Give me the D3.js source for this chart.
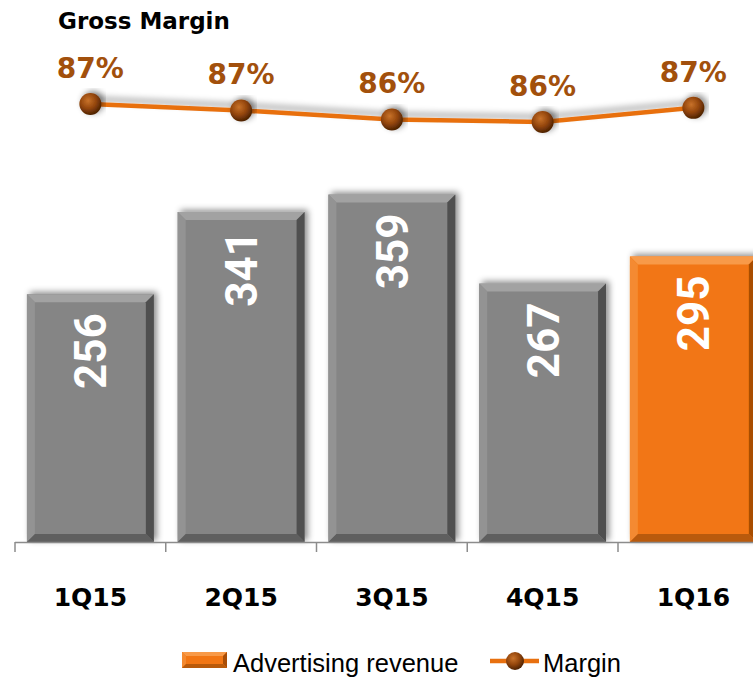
<!DOCTYPE html>
<html>
<head>
<meta charset="utf-8">
<script src="https://cdn.jsdelivr.net/npm/d3@7"></script>
<style>
  body { margin: 0; background: #fff; }
  svg { display: block; }
</style>
</head>
<body>
<div id="chart"></div>
<script>
var W = 753, H = 677;

// data
var quarters = ["1Q15", "2Q15", "3Q15", "4Q15", "1Q16"];
var revenue = [256, 341, 359, 267, 295];
var margin = [87.3, 86.8, 86.1, 85.9, 87.0];
var marginLabels = ["87%", "87%", "86%", "86%", "87%"];

var baseY = 542;

var x = d3.scaleBand()
    .domain(quarters)
    .range([15, 768.75])
    .paddingInner(0.158)
    .paddingOuter(0.079);

var y = d3.scaleLinear()
    .domain([0, 560])
    .range([baseY, 0]);

var yM = d3.scaleLinear()
    .domain([85.9, 87.3])
    .range([122, 104]);

var svg = d3.select("#chart").append("svg")
    .attr("width", W)
    .attr("height", H);

var defs = svg.append("defs");

var sh = defs.append("filter").attr("id", "barShadow")
    .attr("x", "-20%").attr("y", "-20%").attr("width", "140%").attr("height", "140%");
sh.append("feDropShadow").attr("dx", 3).attr("dy", -2)
    .attr("stdDeviation", 3).attr("flood-color", "#000").attr("flood-opacity", 0.45);

var lsh = defs.append("filter").attr("id", "lineShadow")
    .attr("x", "-10%").attr("y", "-100%").attr("width", "120%").attr("height", "300%");
lsh.append("feDropShadow").attr("dx", 0).attr("dy", -5)
    .attr("stdDeviation", 3).attr("flood-color", "#000").attr("flood-opacity", 0.35);

var ball = defs.append("radialGradient").attr("id", "ball")
    .attr("cx", "40%").attr("cy", "35%").attr("r", "65%");
ball.append("stop").attr("offset", "0%").attr("stop-color", "#c8722a");
ball.append("stop").attr("offset", "55%").attr("stop-color", "#94460c");
ball.append("stop").attr("offset", "100%").attr("stop-color", "#4e2203");

var grayTheme = {face: "#858585", top: "#a2a2a2", left: "#939393", right: "#4f4f4f", bottom: "#5e5e5e"};
var orangeTheme = {face: "#f27613", top: "#f89a48", left: "#f48a30", right: "#a94d06", bottom: "#b95a0a"};

// bevelled rectangle
function bevelRect(g, x0, y0, w, h, th, b) {
    g.append("rect").attr("x", x0).attr("y", y0).attr("width", w).attr("height", h)
        .attr("fill", th.face);
    var x1 = x0 + w, y1 = y0 + h;
    var pts = {
        top: [[x0, y0], [x1, y0], [x1 - b, y0 + b], [x0 + b, y0 + b]],
        left: [[x0, y0], [x0 + b, y0 + b], [x0 + b, y1 - b], [x0, y1]],
        right: [[x1, y0], [x1, y1], [x1 - b, y1 - b], [x1 - b, y0 + b]],
        bottom: [[x0, y1], [x0 + b, y1 - b], [x1 - b, y1 - b], [x1, y1]]
    };
    ["top", "left", "right", "bottom"].forEach(function(k) {
        g.append("polygon").attr("points", pts[k].map(function(p) { return p.join(","); }).join(" "))
            .attr("fill", th[k]);
    });
}

// title
svg.append("text")
    .attr("x", 58).attr("y", 29)
    .style("font-family", "DejaVu Sans").style("font-weight", "bold").style("font-size", "23px")
    .attr("fill", "#000")
    .text("Gross Margin");

// bars
var bars = svg.append("g");
quarters.forEach(function(q, i) {
    var g = bars.append("g").attr("filter", "url(#barShadow)");
    bevelRect(g, x(q), y(revenue[i]), x.bandwidth(), baseY - y(revenue[i]), i === 4 ? orangeTheme : grayTheme, 8);
});

// bar value labels
svg.append("g").selectAll("text")
    .data(quarters)
    .enter().append("text")
    .attr("transform", function(d, i) {
        return "translate(" + (x(d) + x.bandwidth() / 2 + 16) + "," + (y(revenue[i]) + 19) + ") rotate(-90)";
    })
    .attr("text-anchor", "end")
    .style("font-family", "Roboto").style("font-weight", "bold").style("font-size", "44px")
    .attr("fill", "#fff")
    .text(function(d, i) { return revenue[i]; });

// x axis
var axis = svg.append("g");
axis.append("line")
    .attr("x1", x.range()[0]).attr("x2", x.range()[1])
    .attr("y1", baseY + 0.5).attr("y2", baseY + 0.5)
    .attr("stroke", "#8c8c8c").attr("stroke-width", 1.5);
var bounds = quarters.map(function(q) { return x(q) - x.step() * x.paddingInner() / 2; });
axis.selectAll(".tick")
    .data(bounds)
    .enter().append("line")
    .attr("class", "tick")
    .attr("x1", function(d) { return d; }).attr("x2", function(d) { return d; })
    .attr("y1", baseY).attr("y2", baseY + 10)
    .attr("stroke", "#8c8c8c").attr("stroke-width", 1.5);
axis.selectAll(".cat")
    .data(quarters)
    .enter().append("text")
    .attr("class", "cat")
    .attr("x", function(d) { return x(d) + x.bandwidth() / 2; })
    .attr("y", 606)
    .attr("text-anchor", "middle")
    .style("font-family", "DejaVu Sans").style("font-weight", "bold").style("font-size", "25px")
    .attr("fill", "#000")
    .text(function(d) { return d; });

// margin line
var line = d3.line()
    .x(function(d, i) { return x(quarters[i]) + x.bandwidth() / 2; })
    .y(function(d) { return yM(d); });

svg.append("path")
    .datum(margin)
    .attr("d", line)
    .attr("fill", "none")
    .attr("stroke", "#e8700f")
    .attr("stroke-width", 4.5)
    .attr("filter", "url(#lineShadow)");

svg.append("g").selectAll("circle")
    .data(margin)
    .enter().append("circle")
    .attr("cx", function(d, i) { return x(quarters[i]) + x.bandwidth() / 2; })
    .attr("cy", function(d) { return yM(d); })
    .attr("r", 11)
    .attr("fill", "url(#ball)")
    .attr("filter", "url(#barShadow)");

svg.append("g").selectAll("text")
    .data(margin)
    .enter().append("text")
    .attr("x", function(d, i) { return x(quarters[i]) + x.bandwidth() / 2; })
    .attr("y", function(d) { return yM(d) - 26; })
    .attr("text-anchor", "middle")
    .style("font-family", "DejaVu Sans").style("font-weight", "bold").style("font-size", "28px")
    .attr("fill", "#a2500c")
    .text(function(d, i) { return marginLabels[i]; });

// legend
var legend = svg.append("g");
bevelRect(legend, 182, 652, 45, 16, orangeTheme, 4);
legend.append("text")
    .attr("x", 233).attr("y", 672)
    .style("font-family", "Liberation Sans").style("font-size", "25.5px")
    .attr("fill", "#000")
    .text("Advertising revenue");
legend.append("line")
    .attr("x1", 490).attr("x2", 539).attr("y1", 661).attr("y2", 661)
    .attr("stroke", "#e8700f").attr("stroke-width", 4.5);
legend.append("circle")
    .attr("cx", 515).attr("cy", 661).attr("r", 9)
    .attr("fill", "url(#ball)");
legend.append("text")
    .attr("x", 543).attr("y", 672)
    .style("font-family", "Liberation Sans").style("font-size", "25.5px")
    .attr("fill", "#000")
    .text("Margin");
</script>
</body>
</html>
